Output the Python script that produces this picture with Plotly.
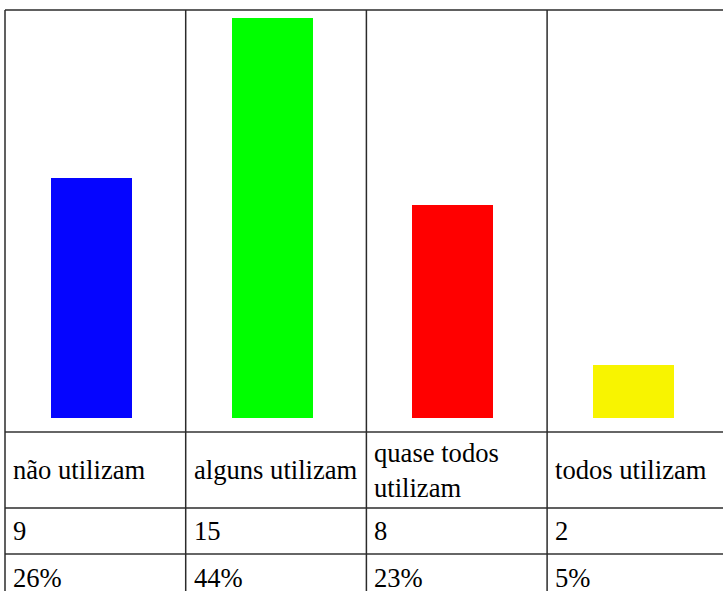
import plotly.graph_objects as go

categories = ["não utilizam", "alguns utilizam", "quase todos<br>utilizam", "todos utilizam"]
counts = [9, 15, 8, 2]
percents = ["26%", "44%", "23%", "5%"]
colors = ["#0505ff", "#00ff00", "#ff0000", "#f8f400"]

W, H = 723, 591
col_left0 = 5.0
col_w = 180.7
bar_center0 = 91.5
rows = [10, 432, 508, 554, 602]
plot_bottom = 418
px_per_unit = 26.667

def px(x):
    return x / W

def py(y):
    return 1 - y / H

x_pos = list(range(len(categories)))

fig = go.Figure()
fig.add_trace(go.Bar(
    x=x_pos, y=counts, width=81 / col_w,
    marker=dict(color=colors, line=dict(width=0)),
    hoverinfo="skip", showlegend=False,
))

shapes = []
line_dark = dict(color="#2b2b2b", width=1.5)
line_gray = dict(color="#666666", width=2)
for i, yv in enumerate(rows[:4]):
    style = line_dark if i in (0, 2) else line_gray
    shapes.append(dict(type="line", xref="paper", yref="paper",
                       x0=px(col_left0), x1=1.01, y0=py(yv), y1=py(yv), line=style))
for i in range(len(categories)):
    xv = col_left0 + i * col_w
    shapes.append(dict(type="line", xref="paper", yref="paper",
                       x0=px(xv), x1=px(xv), y0=py(rows[0]), y1=-0.01, line=line_dark))

annotations = []
font = dict(family="'Liberation Serif', 'Times New Roman', 'DejaVu Serif', serif", size=26.6, color="black")
row_texts = [categories, [str(c) for c in counts], percents]
for r, texts in enumerate(row_texts):
    yc = (rows[r + 1] + rows[r + 2]) / 2
    for i, t in enumerate(texts):
        annotations.append(dict(
            text=t, xref="paper", yref="paper",
            x=px(col_left0 + i * col_w + 6), y=py(yc),
            xanchor="left", yanchor="middle", showarrow=False,
            align="left", font=font,
        ))

y_top_units = (plot_bottom - rows[0]) / px_per_unit
fig.update_layout(
    width=W, height=H,
    margin=dict(l=0, r=0, t=0, b=0),
    paper_bgcolor="white", plot_bgcolor="white",
    font=font,
    xaxis=dict(range=[(0 - bar_center0) / col_w, (W - bar_center0) / col_w],
               visible=False, fixedrange=True),
    yaxis=dict(domain=[py(plot_bottom), py(rows[0])], range=[0, y_top_units],
               visible=False, fixedrange=True),
    shapes=shapes, annotations=annotations,
    bargap=0,
)
fig.write_html("out.html", config={"displayModeBar": False},
               post_script="document.body.style.margin='0';document.body.style.overflow='hidden';")
